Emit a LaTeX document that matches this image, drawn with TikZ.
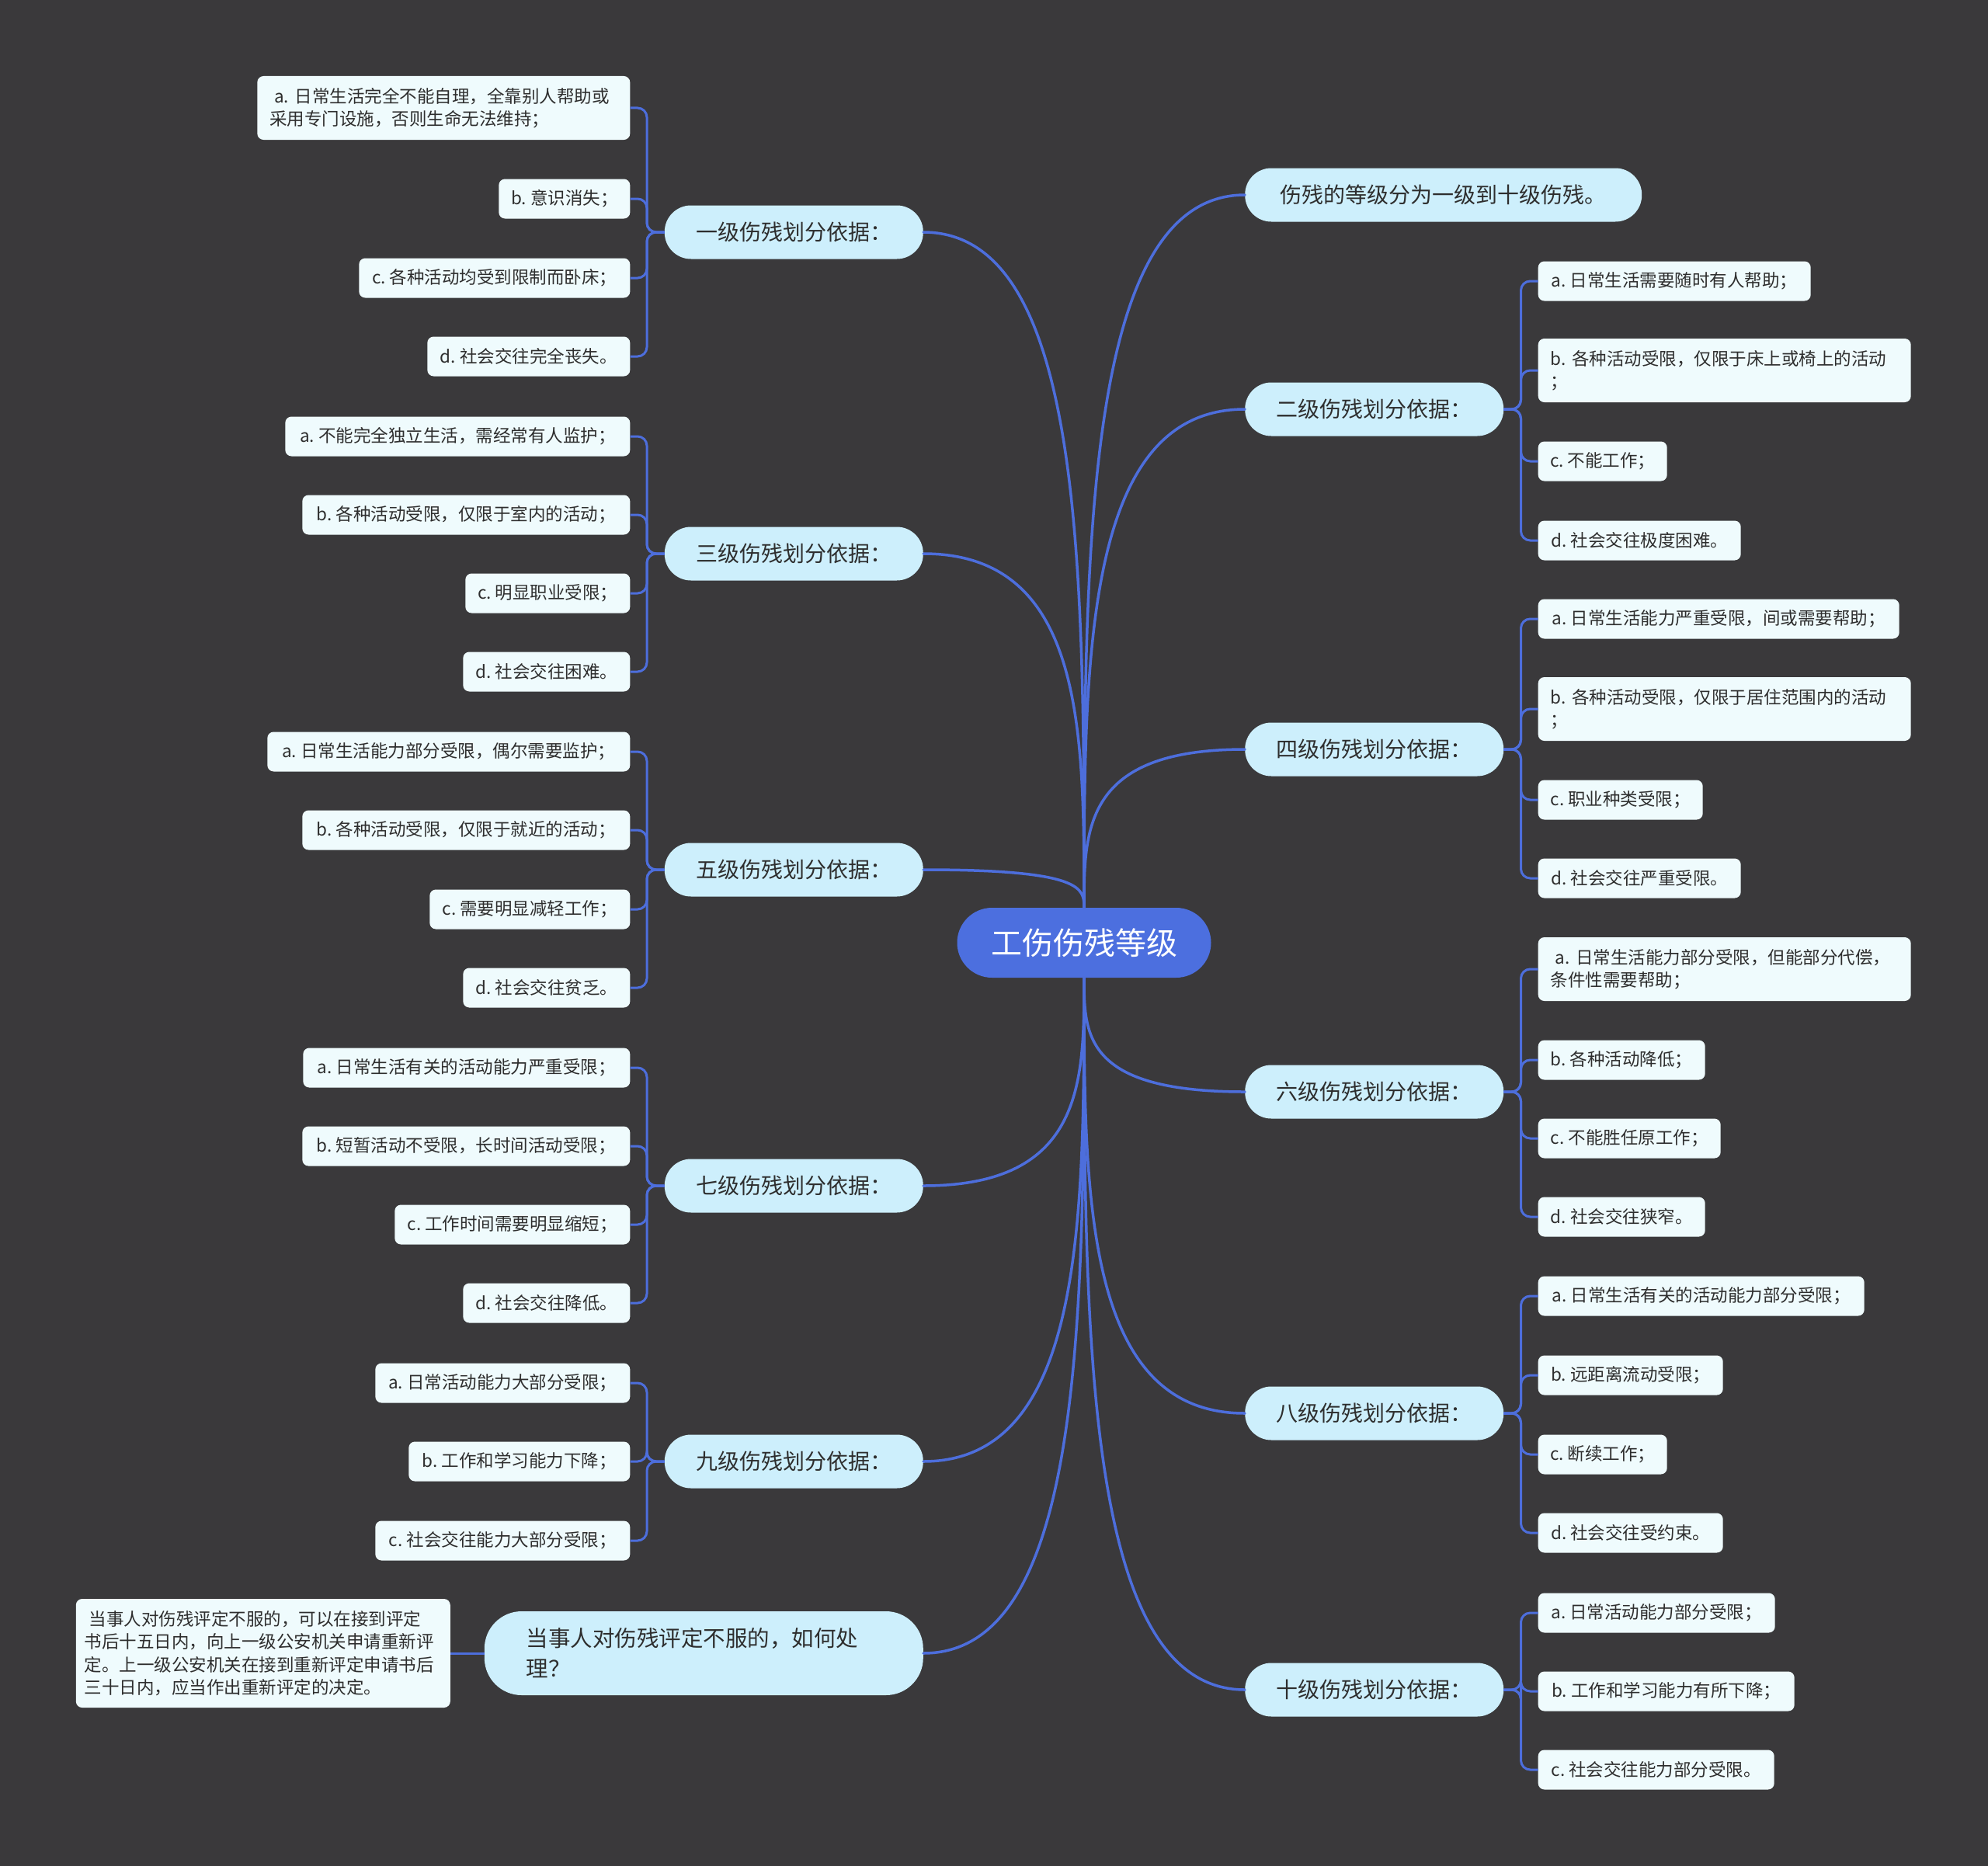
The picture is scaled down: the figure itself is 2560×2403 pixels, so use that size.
\documentclass[tikz,border=0pt]{standalone}
\usepackage{fontspec}
\newfontfamily\cjk{Noto Sans CJK SC}
\usetikzlibrary{calc}
\definecolor{bgc}{HTML}{3A393B}
\definecolor{rootc}{HTML}{4C6FDF}
\definecolor{linec}{HTML}{4D6EDC}
\definecolor{lvlc}{HTML}{CDEFFC}
\definecolor{leafc}{HTML}{EFFBFD}
\definecolor{txt}{HTML}{2E2E2E}
\tikzset{
  rootnode/.style={fill=rootc, text=white, rounded corners=45, minimum width=327, minimum height=90, inner sep=0pt, font=\cjk\frenchspacing\fontsize{40}{48}\selectfont},
  lvl/.style={fill=lvlc, text=txt, rounded corners=34, minimum width=333, minimum height=69, inner xsep=20, inner ysep=0pt, font=\cjk\frenchspacing\fontsize{28}{34}\selectfont},
  leaf/.style={fill=leafc, text=txt, rounded corners=8, minimum height=51, inner xsep=14, inner ysep=0pt, font=\cjk\frenchspacing\fontsize{22.5}{29}\selectfont},
  leaf2/.style={leaf, text width=448, align=left, inner xsep=16, minimum height=82},
  mainline/.style={draw=linec, line width=3.5, line cap=round},
  leafline/.style={draw=linec, line width=3, rounded corners=12},
}
\newcommand\mainlink[2]{\draw[mainline] (#1) .. controls (#1 -| root.center) and ($(#2)!0.5!(#1 -| root.center)$) .. (#2);}
\newcommand\leftleaf[2]{\draw[leafline] (#1.west) -| ([xshift=21.5]#2.east) -- (#2.east);}
\newcommand\rightleaf[2]{\draw[leafline] (#1.east) -| ([xshift=-22]#2.west) -- (#2.west);}
\begin{document}
\begin{tikzpicture}[x=1pt,y=-1pt]
\fill[bgc] (0,0) rectangle (2560,2403);
\useasboundingbox (0,0) rectangle (2560,2403);

% root
\node[rootnode] (root) at (1396,1214) {工伤伤残等级};

% right level-1
\node[lvl, anchor=west, minimum width=511] (r0) at (1603,251) {伤残的等级分为一级到十级伤残。};
\node[lvl, anchor=west] (r2) at (1603,527) {二级伤残划分依据：};
\node[lvl, anchor=west] (r4) at (1603,965) {四级伤残划分依据：};
\node[lvl, anchor=west] (r6) at (1603,1406) {六级伤残划分依据：};
\node[lvl, anchor=west] (r8) at (1603,1820) {八级伤残划分依据：};
\node[lvl, anchor=west] (r10) at (1603,2176) {十级伤残划分依据：};

% left level-1
\node[lvl, anchor=east] (l1) at (1189,299) {一级伤残划分依据：};
\node[lvl, anchor=east] (l3) at (1189,713) {三级伤残划分依据：};
\node[lvl, anchor=east] (l5) at (1189,1120) {五级伤残划分依据：};
\node[lvl, anchor=east] (l7) at (1189,1527) {七级伤残划分依据：};
\node[lvl, anchor=east] (l9) at (1189,1882) {九级伤残划分依据：};
\node[lvl, anchor=east, rounded corners=48, minimum width=565, minimum height=108, text width=457, inner xsep=54, align=left, font=\cjk\frenchspacing\fontsize{28.5}{39}\selectfont] (lq) at (1189,2129) {当事人对伤残评定不服的，如何处\\理？};

% left leaves
\node[leaf2, anchor=east, text width=448] (l1a) at (811.5,139) {\hspace*{6pt}a. 日常生活完全不能自理，全靠别人帮助或\\采用专门设施，否则生命无法维持；};
\node[leaf, anchor=east, minimum width=169] (l1b) at (811.5,256) {b. 意识消失；};
\node[leaf, anchor=east, minimum width=349] (l1c) at (811.5,358) {c. 各种活动均受到限制而卧床；};
\node[leaf, anchor=east, minimum width=261] (l1d) at (811.5,459) {d. 社会交往完全丧失。};

\node[leaf, anchor=east, minimum width=444] (l3a) at (811.5,562) {a. 不能完全独立生活，需经常有人监护；};
\node[leaf, anchor=east, minimum width=422] (l3b) at (811.5,663) {b. 各种活动受限，仅限于室内的活动；};
\node[leaf, anchor=east, minimum width=212] (l3c) at (811.5,764) {c. 明显职业受限；};
\node[leaf, anchor=east, minimum width=215] (l3d) at (811.5,865) {d. 社会交往困难。};

\node[leaf, anchor=east, minimum width=467] (l5a) at (811.5,968) {a. 日常生活能力部分受限，偶尔需要监护；};
\node[leaf, anchor=east, minimum width=422] (l5b) at (811.5,1069) {b. 各种活动受限，仅限于就近的活动；};
\node[leaf, anchor=east, minimum width=258] (l5c) at (811.5,1171) {c. 需要明显减轻工作；};
\node[leaf, anchor=east, minimum width=215] (l5d) at (811.5,1272) {d. 社会交往贫乏。};

\node[leaf, anchor=east, minimum width=421] (l7a) at (811.5,1375) {a. 日常生活有关的活动能力严重受限；};
\node[leaf, anchor=east, minimum width=422] (l7b) at (811.5,1476) {b. 短暂活动不受限，长时间活动受限；};
\node[leaf, anchor=east, minimum width=303] (l7c) at (811.5,1577) {c. 工作时间需要明显缩短；};
\node[leaf, anchor=east, minimum width=215] (l7d) at (811.5,1678) {d. 社会交往降低。};

\node[leaf, anchor=east, minimum width=328] (l9a) at (811.5,1781) {a. 日常活动能力大部分受限；};
\node[leaf, anchor=east, minimum width=285] (l9b) at (811.5,1882) {b. 工作和学习能力下降；};
\node[leaf, anchor=east, minimum width=328] (l9c) at (811.5,1984) {c. 社会交往能力大部分受限；};

\node[leaf, anchor=east, text width=460, align=left, inner xsep=11, minimum height=140, font=\cjk\frenchspacing\fontsize{22.5}{29.4}\selectfont] (lqa) at (580,2129) {\hspace*{6pt}当事人对伤残评定不服的，可以在接到评定\\书后十五日内，向上一级公安机关申请重新评\\定。上一级公安机关在接到重新评定申请书后\\三十日内，应当作出重新评定的决定。};

% right leaves
\node[leaf, anchor=west, minimum width=351] (r2a) at (1980.5,362) {a. 日常生活需要随时有人帮助；};
\node[leaf2, anchor=west] (r2b) at (1980.5,477) {b. 各种活动受限，仅限于床上或椅上的活动\\；};
\node[leaf, anchor=west, minimum width=166] (r2c) at (1980.5,594) {c. 不能工作；};
\node[leaf, anchor=west, minimum width=261] (r2d) at (1980.5,696) {d. 社会交往极度困难。};

\node[leaf, anchor=west, minimum width=465] (r4a) at (1980.5,797) {a. 日常生活能力严重受限，间或需要帮助；};
\node[leaf2, anchor=west] (r4b) at (1980.5,913) {b. 各种活动受限，仅限于居住范围内的活动\\；};
\node[leaf, anchor=west, minimum width=212] (r4c) at (1980.5,1030) {c. 职业种类受限；};
\node[leaf, anchor=west, minimum width=261] (r4d) at (1980.5,1131) {d. 社会交往严重受限。};

\node[leaf2, anchor=west] (r6a) at (1980.5,1248) {\hspace*{6pt}a. 日常生活能力部分受限，但能部分代偿，\\条件性需要帮助；};
\node[leaf, anchor=west, minimum width=215] (r6b) at (1980.5,1365) {b. 各种活动降低；};
\node[leaf, anchor=west, minimum width=235] (r6c) at (1980.5,1466) {c. 不能胜任原工作；};
\node[leaf, anchor=west, minimum width=215] (r6d) at (1980.5,1567) {d. 社会交往狭窄。};

\node[leaf, anchor=west, minimum width=420] (r8a) at (1980.5,1669) {a. 日常生活有关的活动能力部分受限；};
\node[leaf, anchor=west, minimum width=238] (r8b) at (1980.5,1771) {b. 远距离流动受限；};
\node[leaf, anchor=west, minimum width=166] (r8c) at (1980.5,1873) {c. 断续工作；};
\node[leaf, anchor=west, minimum width=238] (r8d) at (1980.5,1974) {d. 社会交往受约束。};

\node[leaf, anchor=west, minimum width=305] (r10a) at (1980.5,2077) {a. 日常活动能力部分受限；};
\node[leaf, anchor=west, minimum width=330] (r10b) at (1980.5,2178) {b. 工作和学习能力有所下降；};
\node[leaf, anchor=west, minimum width=304] (r10c) at (1980.5,2279) {c. 社会交往能力部分受限。};

% main connectors
\mainlink{l1.east}{root.north}
\mainlink{l3.east}{root.north}
\mainlink{l5.east}{root.north}
\mainlink{l7.east}{root.south}
\mainlink{l9.east}{root.south}
\mainlink{lq.east}{root.south}
\mainlink{r0.west}{root.north}
\mainlink{r2.west}{root.north}
\mainlink{r4.west}{root.north}
\mainlink{r6.west}{root.south}
\mainlink{r8.west}{root.south}
\mainlink{r10.west}{root.south}

% leaf connectors
\leftleaf{l1}{l1a}\leftleaf{l1}{l1b}\leftleaf{l1}{l1c}\leftleaf{l1}{l1d}
\leftleaf{l3}{l3a}\leftleaf{l3}{l3b}\leftleaf{l3}{l3c}\leftleaf{l3}{l3d}
\leftleaf{l5}{l5a}\leftleaf{l5}{l5b}\leftleaf{l5}{l5c}\leftleaf{l5}{l5d}
\leftleaf{l7}{l7a}\leftleaf{l7}{l7b}\leftleaf{l7}{l7c}\leftleaf{l7}{l7d}
\leftleaf{l9}{l9a}\leftleaf{l9}{l9b}\leftleaf{l9}{l9c}
\draw[leafline] (lq.west) -- (lqa.east);
\rightleaf{r2}{r2a}\rightleaf{r2}{r2b}\rightleaf{r2}{r2c}\rightleaf{r2}{r2d}
\rightleaf{r4}{r4a}\rightleaf{r4}{r4b}\rightleaf{r4}{r4c}\rightleaf{r4}{r4d}
\rightleaf{r6}{r6a}\rightleaf{r6}{r6b}\rightleaf{r6}{r6c}\rightleaf{r6}{r6d}
\rightleaf{r8}{r8a}\rightleaf{r8}{r8b}\rightleaf{r8}{r8c}\rightleaf{r8}{r8d}
\rightleaf{r10}{r10a}\rightleaf{r10}{r10b}\rightleaf{r10}{r10c}
\end{tikzpicture}
\end{document}
